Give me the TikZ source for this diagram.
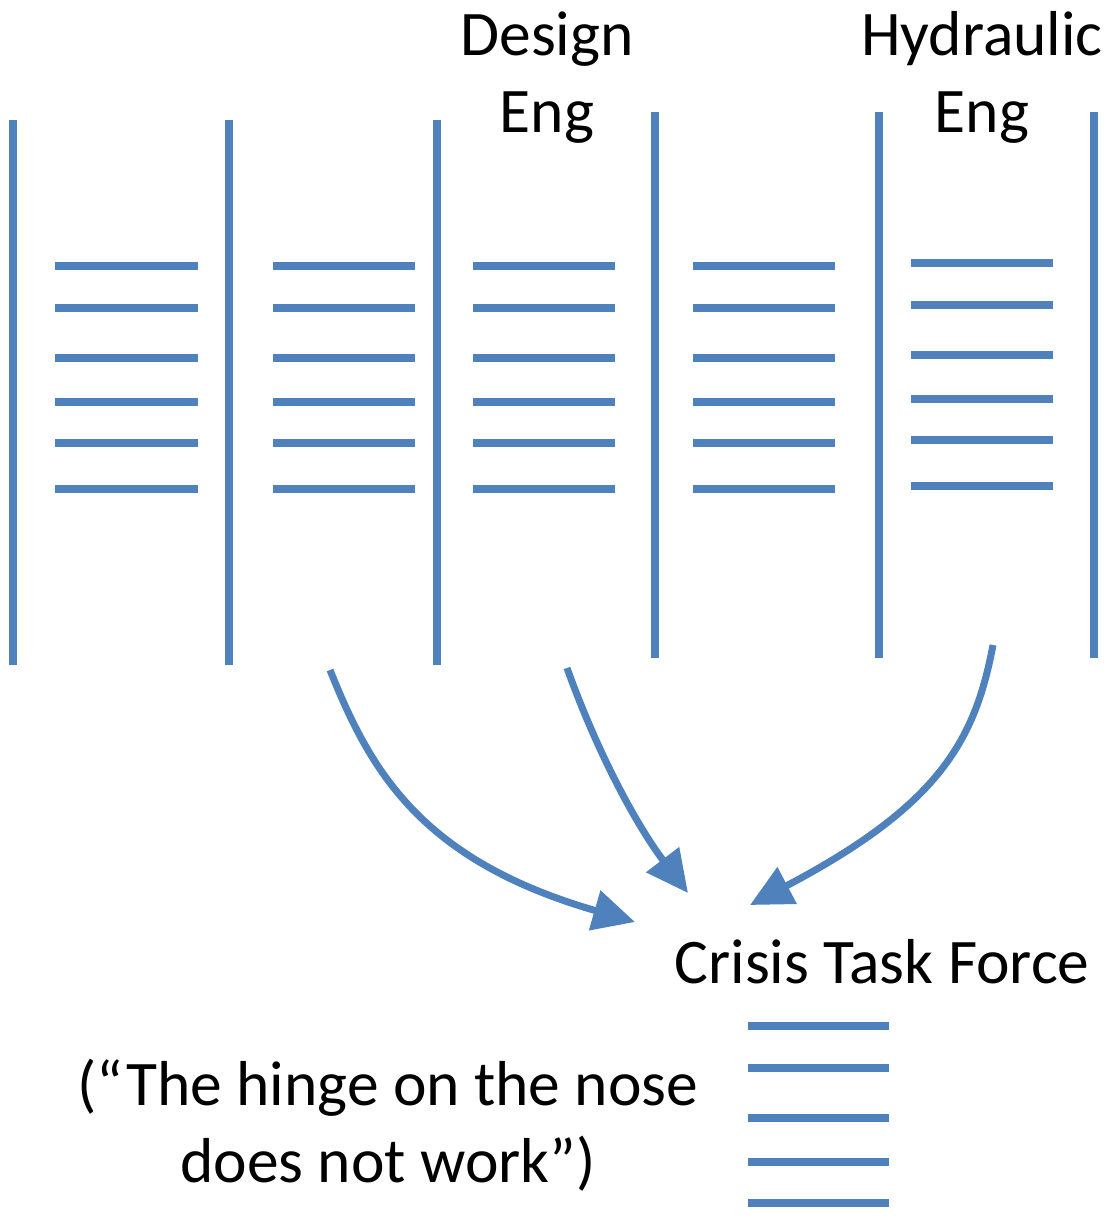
\documentclass[tikz,border=0pt]{standalone}
\usepackage{fontspec}
\setmainfont{Carlito}
\usetikzlibrary{arrows.meta}
\definecolor{barblue}{HTML}{4F81BD}
\begin{document}
\begin{tikzpicture}[x=1pt,y=-1pt,
  bar/.style={draw=barblue,line width=7.5pt},
  flow/.style={draw=barblue,line width=7pt,-{Triangle[length=42pt,width=40pt]}},
  label/.style={font=\fontsize{63.5}{77}\selectfont,align=center,inner sep=0pt,anchor=base}]
\useasboundingbox (0,0) rectangle (1114,1218);

% vertical dividers between columns
\foreach \x/\t/\b in {13/120/665, 229/120/665, 437/120/665, 655/112/658, 879/112/658, 1094/112/658}
  \draw[bar] (\x,\t) -- (\x,\b);

% rows within each column
\foreach \l/\r in {55/198, 273/415, 473/615, 693/835}
  \foreach \y in {266,308,358,402,443,489}
    \draw[bar] (\l,\y) -- (\r,\y);
\foreach \y in {263,305,355,399,440,486}
  \draw[bar] (911,\y) -- (1053,\y);

% task force rows
\foreach \y in {1026,1068,1118,1162,1203}
  \draw[bar] (748,\y) -- (889,\y);

% labels (base anchor sits on the last line)
\node[label] (design) at (547,132) {Design\\Eng};
\node[label] (hydraulic) at (982,132) {Hydraulic\\Eng};
\node[label] (crisis) at (882,983) {Crisis Task Force};
\node[label] (quote) at (388,1182) {(“The hinge on the nose\\does not work”)};

% arrow end points
\coordinate (s1) at (330,670);
\coordinate (e1) at (635,922);
\coordinate (s2) at (567,668);
\coordinate (e2) at (688,893);
\coordinate (s3) at (993,645);
\coordinate (e3) at (750,905);

\draw[flow] (s1) .. controls (370,770) and (420,860) .. (e1);
\draw[flow] (s2) .. controls (600,760) and (640,830) .. (e2);
\draw[flow] (s3) .. controls (975,740) and (940,805) .. (e3);
\end{tikzpicture}
\end{document}
